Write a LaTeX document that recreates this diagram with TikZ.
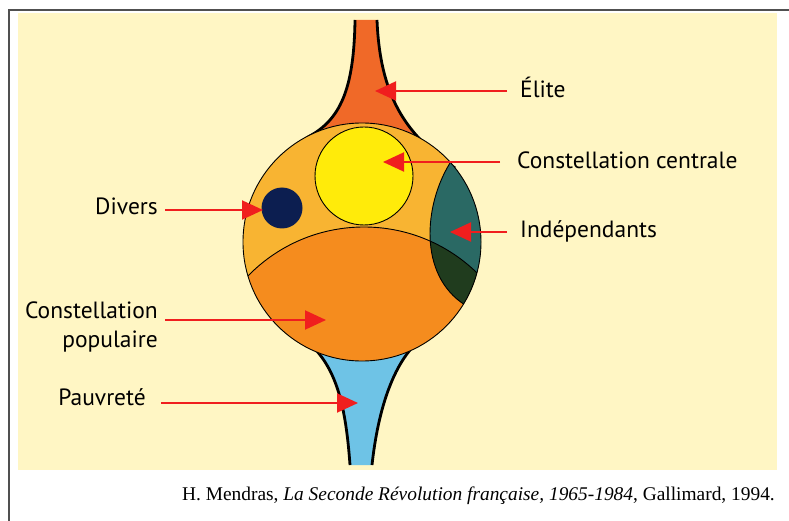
\documentclass[tikz,border=0pt]{standalone}
\usepackage{fontspec}
\newfontfamily\labelfont{PT Sans}
\newfontfamily\citefont{Liberation Serif}
\usepackage{tikz}
\usetikzlibrary{arrows.meta}
\definecolor{paper}{RGB}{255,246,196}
\definecolor{frame}{RGB}{80,80,80}
\definecolor{amber}{RGB}{248,180,50}
\definecolor{popular}{RGB}{245,140,30}
\definecolor{central}{RGB}{255,235,10}
\definecolor{navy}{RGB}{12,30,80}
\definecolor{teal}{RGB}{42,105,100}
\definecolor{moss}{RGB}{32,60,30}
\definecolor{eliteorange}{RGB}{240,105,40}
\definecolor{poorblue}{RGB}{110,195,230}
\definecolor{arrowred}{RGB}{240,30,30}

\begin{document}
\begin{tikzpicture}[x=1pt,y=-1pt,
	lbl/.style={font=\labelfont\fontsize{23.5}{29}\selectfont,inner sep=0pt,text height=16pt,text depth=0pt},
	pointer/.style={draw=arrowred,line width=2pt,-{Triangle[length=21pt,width=19pt]},arrowred},
	rim/.style={draw=black,line width=0.9pt},
	stem/.style={draw=black,line width=2.8pt}]
	\useasboundingbox (0,0) rectangle (789,521);
	% page and frame
	\fill[white] (0,0) rectangle (789,521);
	\fill[paper] (18,13) rectangle (777,470);
	\draw[frame,line width=1.4pt] (9,521) -- (9,10) -- (789,10);
	% elite stem
	\fill[eliteorange] (355,20) -- (377,20) .. controls (380,95) and (405,135) .. (455,168)
		-- (362,242) -- (308,137) .. controls (340,120) and (354,90) .. (355,20);
	\draw[stem] (377,20) .. controls (380,95) and (405,135) .. (455,168);
	\draw[stem] (308,137) .. controls (340,120) and (354,90) .. (355,20);
	% poverty stem
	\fill[poorblue] (350,465) -- (372,465) .. controls (378,410) and (392,372) .. (410,350)
		-- (362,300) -- (316,350) .. controls (338,375) and (346,410) .. (350,465);
	\draw[stem] (372,465) .. controls (378,410) and (392,372) .. (410,350);
	\draw[stem] (316,350) .. controls (338,375) and (346,410) .. (350,465);
	% society circle
	\fill[amber] (362,242) circle[radius=119pt];
	\begin{scope}
		\clip (362,242) circle[radius=119pt];
		\fill[popular] (364,389) circle[radius=162pt];
		\begin{scope}
			\clip (450,163) .. controls (424,205) and (418,275) .. (465,305) -- (520,305) -- (520,163) -- cycle;
			\fill[teal] (300,100) rectangle (520,320);
			\fill[moss] (364,389) circle[radius=162pt];
		\end{scope}
		\draw[rim] (364,389) circle[radius=162pt];
		\draw[rim] (450,163) .. controls (424,205) and (418,275) .. (465,305);
	\end{scope}
	\draw[rim] (362,242) circle[radius=119pt];
	\draw[rim,fill=central] (364,176) circle[radius=49pt];
	\fill[navy] (282,208) circle[radius=20.5pt];
	% labels
	\node[lbl,anchor=west] (elite) at (520,90) {Élite};
	\node[lbl,anchor=west] (centrale) at (517,161) {Constellation centrale};
	\node[lbl,anchor=west] (indep) at (520,230) {Indépendants};
	\node[lbl,anchor=east] (divers) at (158,207) {Divers};
	\node[lbl,anchor=north east,align=right,text height=] (populaire) at (158,302) {Constellation\\populaire};
	\node[lbl,anchor=east] (pauvrete) at (146,397) {Pauvreté};
	% pointers
	\coordinate (eliteTip) at (375,91);
	\coordinate (centraleTip) at (383,162);
	\coordinate (indepTip) at (450,232);
	\coordinate (diversTip) at (263,210);
	\coordinate (populaireTip) at (326,320);
	\coordinate (pauvreteTip) at (358,403);
	\draw[pointer,shorten <=13pt] (elite.west |- eliteTip) -- (eliteTip);
	\draw[pointer,shorten <=17pt] (centrale.west |- centraleTip) -- (centraleTip);
	\draw[pointer,shorten <=13pt] (indep.west |- indepTip) -- (indepTip);
	\draw[pointer,shorten <=7pt] (divers.east |- diversTip) -- (diversTip);
	\draw[pointer,shorten <=7pt] (populaire.east |- populaireTip) -- (populaireTip);
	\draw[pointer,shorten <=15pt] (pauvrete.east |- pauvreteTip) -- (pauvreteTip);
	% source
	\node[font=\citefont\fontsize{19.4}{22}\selectfont,anchor=base east,inner sep=0pt] (source) at (775,500)
		{H. Mendras, \textit{La Seconde Révolution française, 1965-1984}, Gallimard, 1994.};
\end{tikzpicture}
\end{document}
